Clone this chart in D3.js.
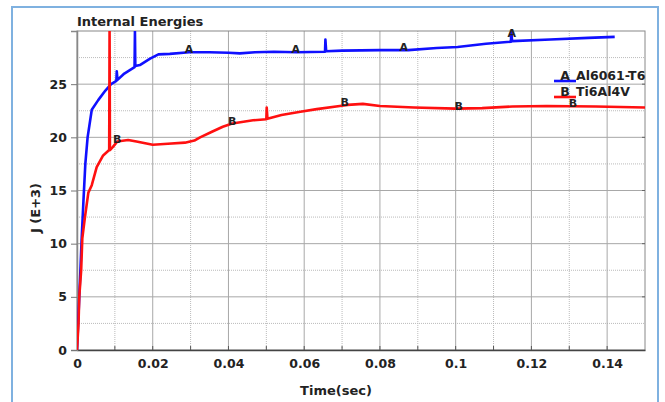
<!DOCTYPE html>
<html>
<head>
<meta charset="utf-8">
<script src="https://cdn.jsdelivr.net/npm/d3@7"></script>
<style>
  body { margin: 0; background: #fff; }
  text { font-family: "DejaVu Sans", sans-serif; font-weight: bold; fill: #222; }
</style>
</head>
<body>
<script>
// Internal energies, J (E+3) vs time (sec)
const timeA = [0, 0.0003, 0.0006, 0.0009, 0.0012, 0.0017, 0.0022, 0.0028, 0.0039, 0.0056, 0.0075, 0.009,
  0.0104, 0.0105, 0.0107, 0.0125, 0.0152, 0.0153, 0.0154, 0.0166, 0.0193, 0.0215, 0.0245, 0.0296, 0.035,
  0.04, 0.043, 0.047, 0.052, 0.058, 0.0655, 0.0656, 0.0658, 0.07, 0.08, 0.0875, 0.095, 0.1005, 0.108,
  0.1146, 0.1147, 0.1149, 0.125, 0.135, 0.142];
const valueA = [0, 2.5, 5, 7.5, 10.2, 14, 17.5, 20, 22.6, 23.5, 24.4, 25.0,
  25.3, 26.2, 25.4, 26.0, 26.6, 29.95, 26.7, 26.8, 27.4, 27.8, 27.85, 28.0, 28.0,
  27.95, 27.9, 28.0, 28.05, 28.0, 28.05, 29.2, 28.1, 28.15, 28.2, 28.2, 28.4, 28.5, 28.8,
  29.0, 29.95, 29.05, 29.2, 29.35, 29.45];

const timeB = [0, 0.0004, 0.0006, 0.0011, 0.0014, 0.0021, 0.003, 0.0039, 0.0052, 0.0069, 0.0085, 0.0086,
  0.0087, 0.0095, 0.0106, 0.0135, 0.0157, 0.02, 0.024, 0.0285, 0.031, 0.0325, 0.0355, 0.0385, 0.041,
  0.0465, 0.05, 0.0501, 0.0503, 0.054, 0.059, 0.0633, 0.0694, 0.0715, 0.0755, 0.08, 0.089, 0.1, 0.107,
  0.115, 0.124, 0.137, 0.15];
const valueB = [0, 2.5, 5, 7.5, 10.5, 12.5, 14.8, 15.5, 17.2, 18.3, 18.8, 29.95,
  18.8, 19.1, 19.6, 19.75, 19.6, 19.3, 19.4, 19.5, 19.7, 20.0, 20.5, 21.0, 21.3,
  21.6, 21.7, 22.8, 21.75, 22.1, 22.4, 22.65, 22.95, 23.05, 23.15, 22.95, 22.8, 22.7, 22.75,
  22.9, 22.95, 22.9, 22.8];

const markA = [0.0296, 0.0578, 0.0863, 0.1148];
const markB = [0.0106, 0.041, 0.0707, 0.1008, 0.131];

const seriesNames = ["Al6061-T6", "Ti6Al4V"];
const seriesLetters = ["A", "B"];
const seriesColors = ["#1010ff", "#ff1010"];

const xTicks = [0, 0.02, 0.04, 0.06, 0.08, 0.1, 0.12, 0.14];
const xTickLabels = ["0", "0.02", "0.04", "0.06", "0.08", "0.1", "0.12", "0.14"];
const yTicks = [0, 5, 10, 15, 20, 25];

const W = 665, H = 402;
const mLeft = 77, mRight = 645, mTop = 31, mBottom = 350;

const svg = d3.select("body").append("svg")
  .attr("width", W)
  .attr("height", H);

// outer frame
svg.append("rect")
  .attr("x", 12).attr("y", 7)
  .attr("width", 646).attr("height", 410)
  .attr("fill", "#fff")
  .attr("stroke", "#7fb1e0")
  .attr("stroke-width", 2);

let x = d3.scaleLinear().domain([0, 0.15]).range([mLeft, mRight]);
let y = d3.scaleLinear().domain([0, 30]).range([mBottom, mTop]);

// minor grid (dotted)
let xMinor = d3.range(0.01, 0.15, 0.02);
let yMinor = d3.range(2.5, 30, 5);
svg.append("g").selectAll("line").data(xMinor).enter().append("line")
  .attr("x1", d => x(d)).attr("x2", d => x(d))
  .attr("y1", mTop).attr("y2", mBottom)
  .attr("stroke", "#bbb").attr("stroke-dasharray", "1,1");
svg.append("g").selectAll("line").data(yMinor).enter().append("line")
  .attr("x1", mLeft).attr("x2", mRight)
  .attr("y1", d => y(d)).attr("y2", d => y(d))
  .attr("stroke", "#bbb").attr("stroke-dasharray", "1,1");

// major grid
svg.append("g").selectAll("line").data(xTicks.slice(1)).enter().append("line")
  .attr("x1", d => x(d)).attr("x2", d => x(d))
  .attr("y1", mTop).attr("y2", mBottom)
  .attr("stroke", "#a8a8a8");
svg.append("g").selectAll("line").data(yTicks.slice(1)).enter().append("line")
  .attr("x1", mLeft).attr("x2", mRight)
  .attr("y1", d => y(d)).attr("y2", d => y(d))
  .attr("stroke", "#a8a8a8");

// plot border
svg.append("rect")
  .attr("x", mLeft).attr("y", mTop)
  .attr("width", mRight - mLeft).attr("height", mBottom - mTop)
  .attr("fill", "none").attr("stroke", "#888");

// axes
let xAxis = d3.axisBottom(x)
  .tickValues(xTicks)
  .tickFormat((d, i) => xTickLabels[i])
  .tickSize(0)
  .tickPadding(9);
let gx = svg.append("g")
  .attr("transform", "translate(0," + mBottom + ")")
  .call(xAxis);
gx.select(".domain").attr("stroke", "#444").attr("stroke-width", 1.5);
gx.selectAll("text").style("font-size", "12.5px").attr("fill", "#222");

// inward ticks on the bottom axis
svg.append("g").selectAll("line").data(d3.range(0.01, 0.15, 0.01)).enter().append("line")
  .attr("x1", d => x(d)).attr("x2", d => x(d))
  .attr("y1", mBottom).attr("y2", mBottom - 4)
  .attr("stroke", "#555");

let yAxis = d3.axisLeft(y)
  .tickValues(yTicks)
  .tickSize(6)
  .tickPadding(4);
let gy = svg.append("g")
  .attr("transform", "translate(" + mLeft + ",0)")
  .call(yAxis);
gy.select(".domain").attr("stroke", "#888").attr("stroke-width", 1.5);
gy.selectAll(".tick line").attr("stroke", "#777");
gy.selectAll("text").style("font-size", "12.5px").attr("fill", "#222");

// right side small ticks
svg.append("g").selectAll("line").data(yTicks.slice(1)).enter().append("line")
  .attr("x1", mRight).attr("x2", mRight - 3)
  .attr("y1", d => y(d)).attr("y2", d => y(d))
  .attr("stroke", "#666");

// title and axis labels
svg.append("text")
  .attr("x", mLeft).attr("y", 26)
  .style("font-size", "13px")
  .text("Internal Energies");

svg.append("text")
  .attr("x", 336).attr("y", 395)
  .attr("text-anchor", "middle")
  .style("font-size", "13px")
  .text("Time(sec)");

svg.append("text")
  .attr("transform", "translate(40,208) rotate(-90)")
  .attr("text-anchor", "middle")
  .style("font-size", "13px")
  .text("J (E+3)");

// curves
let line = d3.line()
  .x(d => x(d[0]))
  .y(d => y(d[1]));

let dataA = timeA.map((t, i) => [t, valueA[i]]);
let dataB = timeB.map((t, i) => [t, valueB[i]]);
let allSeries = [dataA, dataB];
let allMarks = [markA, markB];

svg.append("defs").append("clipPath").attr("id", "plotclip")
  .append("rect")
  .attr("x", mLeft).attr("y", mTop)
  .attr("width", mRight - mLeft).attr("height", mBottom - mTop);

allSeries.forEach((data, k) => {
  svg.append("path")
    .datum(data)
    .attr("clip-path", "url(#plotclip)")
    .attr("fill", "none")
    .attr("stroke", seriesColors[k])
    .attr("stroke-width", 2.6)
    .attr("stroke-linejoin", "round")
    .attr("d", line);
});

// letter markers placed on the curves
let bisect = d3.bisector(d => d[0]).left;
function valueAt(data, t) {
  let i = bisect(data, t);
  if (i <= 0) return data[0][1];
  if (i >= data.length) return data[data.length - 1][1];
  let a = data[i - 1], b = data[i];
  return a[1] + (b[1] - a[1]) * (t - a[0]) / (b[0] - a[0]);
}

allMarks.forEach((marks, k) => {
  svg.append("g").selectAll("text").data(marks).enter().append("text")
    .attr("x", d => x(d))
    .attr("y", d => y(valueAt(allSeries[k], d)) + 1)
    .attr("text-anchor", "middle")
    .style("font-size", "11px")
    .text(seriesLetters[k]);
});

// legend
let legend = svg.append("g").attr("transform", "translate(554,81)");
seriesNames.forEach((name, k) => {
  let g = legend.append("g").attr("transform", "translate(0," + (k * 16) + ")");
  g.append("line")
    .attr("x1", 0).attr("x2", 22)
    .attr("y1", 0).attr("y2", 0)
    .attr("stroke", seriesColors[k])
    .attr("stroke-width", 2.6);
  g.append("text")
    .attr("x", 11).attr("y", -1)
    .attr("text-anchor", "middle")
    .style("font-size", "12.5px")
    .text(seriesLetters[k]);
  g.append("text")
    .attr("x", 22).attr("y", -1)
    .style("font-size", "12.5px")
    .text(name);
});
</script>
</body>
</html>
